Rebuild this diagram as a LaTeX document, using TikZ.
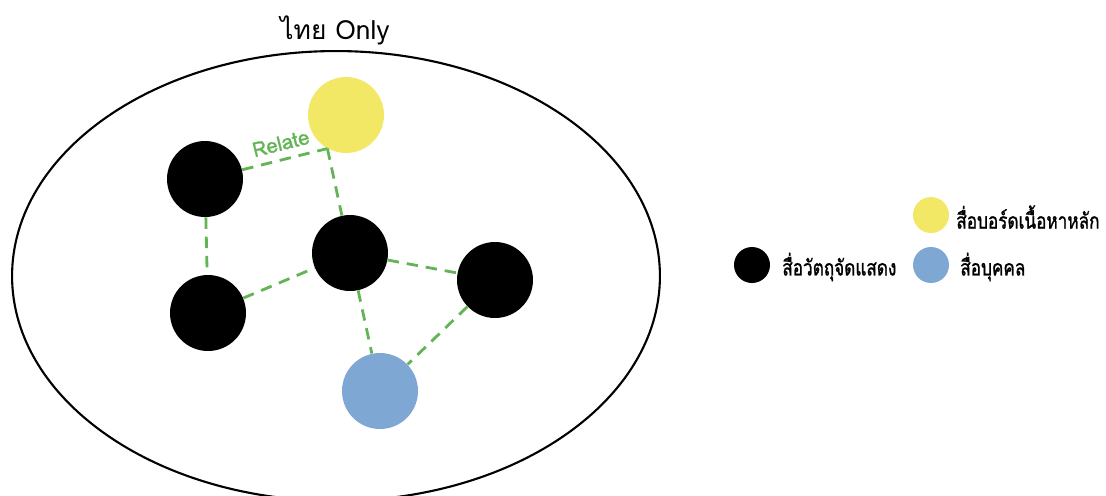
\documentclass[tikz,border=0pt]{standalone}
\usepackage{fontspec}
\newfontfamily\thaifont[Script=Thai]{Loma}
\newfontfamily\thaikeyfont[Script=Thai, FakeStretch=0.78, FakeBold=1.2]{Loma}
\newfontfamily\relatefont[Script=Thai, FakeBold=1.2]{Loma}
\definecolor{boardyellow}{RGB}{243,232,102}
\definecolor{personblue}{RGB}{126,167,212}
\definecolor{relategreen}{RGB}{98,180,84}
\tikzset{
  objdot/.style={circle, fill=black, minimum size=1.52cm, inner sep=0pt},
  boarddot/.style={circle, fill=boardyellow, minimum size=1.52cm, inner sep=0pt},
  persondot/.style={circle, fill=personblue, minimum size=1.52cm, inner sep=0pt},
  relateline/.style={relategreen, line width=1.6pt, dash pattern=on 6.5pt off 4.5pt},
  keydot/.style={circle, minimum size=0.72cm, inner sep=0pt},
  keytext/.style={font=\thaikeyfont\fontsize{12.5}{14}\selectfont, anchor=west, inner sep=0pt}
}
\begin{document}
\begin{tikzpicture}[x=0.02cm, y=-0.02cm]
      \useasboundingbox (0,0) rectangle (1106,495);

      % 1. ขอบเขต ไทย Only
      \draw[line width=1.2pt] (336,276) ellipse [x radius=6.48cm, y radius=4.5cm];
      \node[font=\thaifont\fontsize{15}{18}\selectfont] (title) at (335,30) {ไทย Only};

      % 2. สื่อแต่ละชนิด
      \node[objdot] (O1) at (205,179) {};
      \node[boarddot] (B1) at (346,115) {};
      \node[objdot] (O2) at (350,253) {};
      \node[objdot] (O3) at (208,313) {};
      \node[objdot] (O4) at (495,280) {};
      \node[persondot] (P1) at (380,391) {};
      \coordinate (B1c) at (B1.241);

      % 3. เส้นความสัมพันธ์
      \draw[relateline] (O1) -- (B1c)
        node[midway, sloped, above=1pt, font=\relatefont\fontsize{11.5}{13}\selectfont, text=relategreen] (rel) {Relate};
      \draw[relateline] (B1c) -- (O2);
      \draw[relateline] (O1) -- (O3);
      \draw[relateline] (O3) -- (O2);
      \draw[relateline] (O2) -- (O4);
      \draw[relateline] (O2) -- (P1);
      \draw[relateline] (O4) -- (P1);

      % 4. คำอธิบายสัญลักษณ์
      \node[keydot, fill=boardyellow] (kB) at (931,215) {};
      \node[keytext] (kBt) at (956,217) {สื่อบอร์ดเนื้อหาหลัก};
      \node[keydot, fill=black] (kO) at (752,265) {};
      \node[keytext] (kOt) at (782,267) {สื่อวัตถุจัดแสดง};
      \node[keydot, fill=personblue] (kP) at (931,265) {};
      \node[keytext] (kPt) at (960,267) {สื่อบุคคล};
    \end{tikzpicture}
\end{document}
